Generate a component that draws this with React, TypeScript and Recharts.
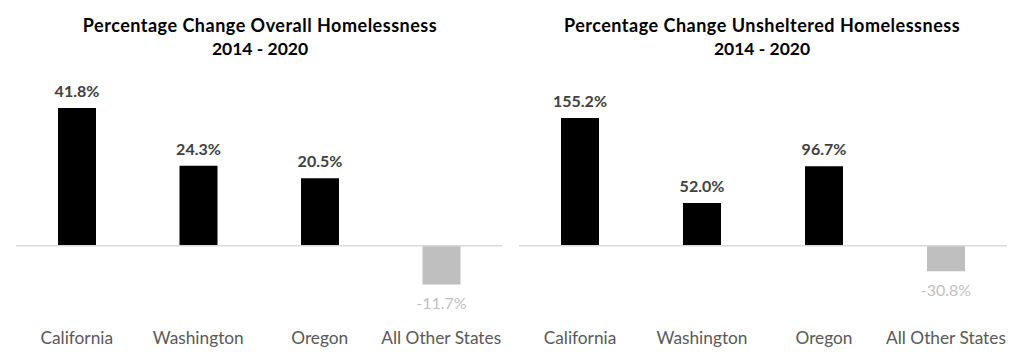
import React from "react"
import { BarChart, Bar, XAxis, YAxis, Cell, LabelList, ReferenceLine } from "recharts"

const states = ["California", "Washington", "Oregon", "All Other States"]
const overallChange = [41.8, 24.3, 20.5, -11.7]
const unshelteredChange = [155.2, 52.0, 96.7, -30.8]

const FONT = "Lato, 'Open Sans', sans-serif"

const overallData = states.map((name, i) => ({ name, value: overallChange[i] }))
const unshelteredData = states.map((name, i) => ({ name, value: unshelteredChange[i] }))

function ValueLabel(props: any) {
  const { x, y, width, height, value } = props
  const top = Math.min(y, y + height)
  const bottom = Math.max(y, y + height)
  const cx = x + width / 2
  const text = `${Number(value).toFixed(1)}%`
  if (value >= 0) {
    return (
      <text x={cx} y={top - 11} textAnchor="middle" fill="#404040" fontSize={16} fontWeight="bold" fontFamily={FONT}>
        {text}
      </text>
    )
  }
  return (
    <text x={cx} y={bottom + 25} textAnchor="middle" fill="#bfbfbf" fontSize={16} fontFamily={FONT}>
      {text}
    </text>
  )
}

interface PanelProps {
  data: { name: string; value: number }[]
  domain: [number, number]
  left: number
  marginLeft: number
  marginRight: number
}

function Panel({ data, domain, left, marginLeft, marginRight }: PanelProps) {
  return (
    <div style={{ position: "absolute", left, top: 0 }}>
      <BarChart
        width={512}
        height={359}
        data={data}
        margin={{ top: 81, bottom: 4, left: marginLeft, right: marginRight }}
      >
        <XAxis
          dataKey="name"
          axisLine={false}
          tickLine={false}
          tickSize={0}
          tickMargin={7}
          height={30}
          interval={0}
          tick={{ fill: "#595959", fontSize: 17.3, fontFamily: FONT }}
        />
        <YAxis hide domain={domain} />
        <ReferenceLine y={0} stroke="#d9d9d9" strokeWidth={1.5} />
        <Bar dataKey="value" barSize={38} isAnimationActive={false}>
          {data.map((d, i) => (
            <Cell key={`cell-${i}`} fill={d.value >= 0 ? "#000000" : "#bfbfbf"} />
          ))}
          <LabelList dataKey="value" content={ValueLabel} />
        </Bar>
      </BarChart>
    </div>
  )
}

function Title({ lines, cx }: { lines: string[]; cx: number }) {
  return (
    <div
      style={{
        position: "absolute",
        left: cx - 250,
        width: 500,
        top: 13,
        textAlign: "center",
        fontFamily: FONT,
        fontWeight: "bold",
        lineHeight: "24px",
        color: "#000",
      }}
    >
      <div style={{ fontSize: 18, letterSpacing: 0.5 }}>{lines[0]}</div>
      <div style={{ fontSize: 17.5 }}>{lines[1]}</div>
    </div>
  )
}

export default function App() {
  return (
    <div style={{ position: "absolute", left: 0, top: 0, width: 1024, height: 359, background: "#fff", overflow: "hidden" }}>
      <Panel data={overallData} domain={[-24, 50]} left={0} marginLeft={16} marginRight={10} />
      <Panel data={unshelteredData} domain={[-96, 200]} left={512} marginLeft={7} marginRight={17} />
      <Title lines={["Percentage Change Overall Homelessness", "2014 - 2020"]} cx={260} />
      <Title lines={["Percentage Change Unsheltered Homelessness", "2014 - 2020"]} cx={762} />
    </div>
  )
}
